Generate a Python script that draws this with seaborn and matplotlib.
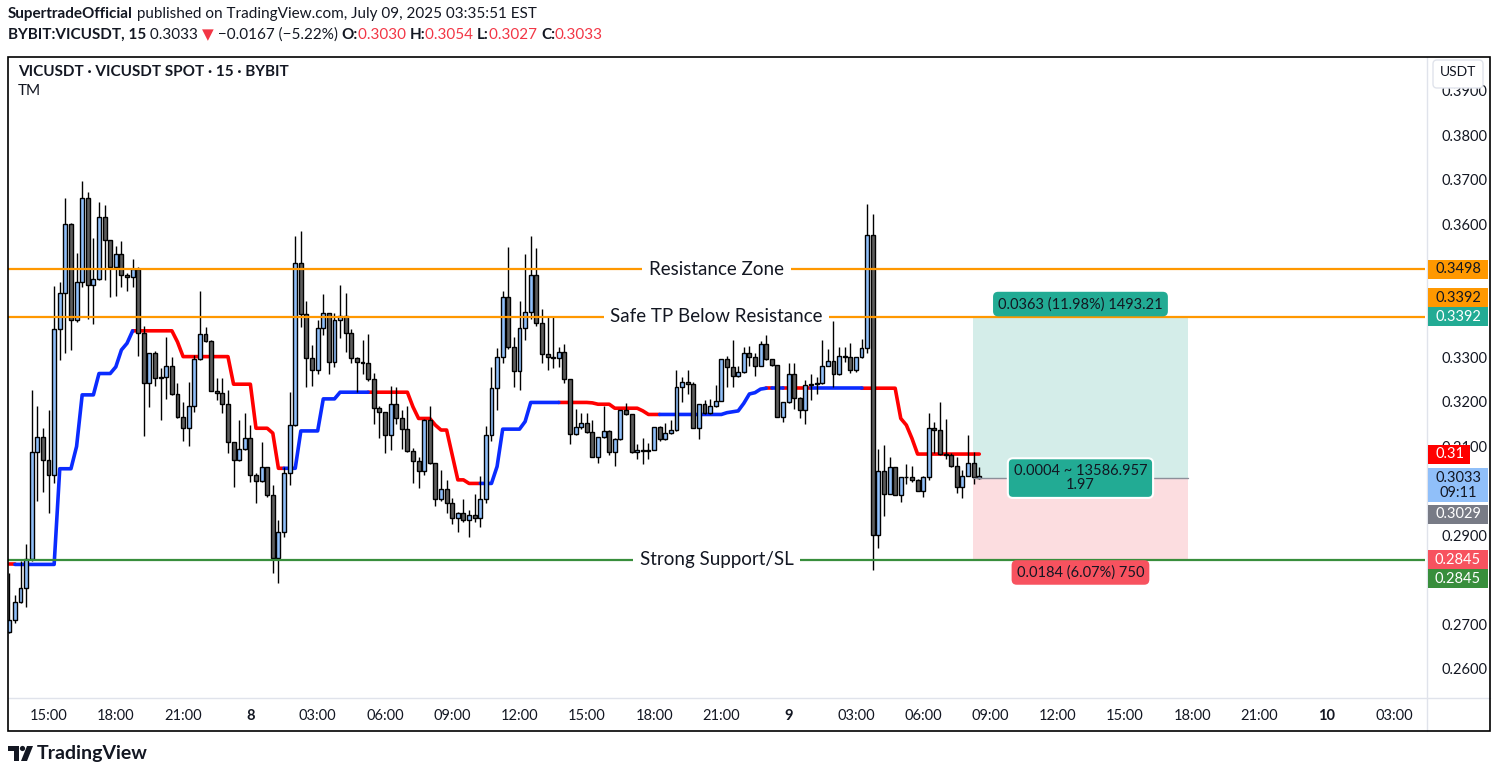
import numpy as np
import pandas as pd
import matplotlib
matplotlib.use('Agg')
import matplotlib.pyplot as plt
import matplotlib.transforms as mtransforms
from matplotlib.patches import Rectangle, FancyBboxPatch, Polygon, Circle
import seaborn as sns

# VICUSDT 15m candles, first bar 2025-07-07 13:15
opens = [0.2682, 0.2709, 0.2750, 0.2781, 0.2847, 0.3087, 0.3121, 0.3069, 0.3035, 0.3363,
         0.3444, 0.3599, 0.3384, 0.3470, 0.3658, 0.3464, 0.3476, 0.3615, 0.3563, 0.3503,
         0.3532, 0.3485, 0.3480, 0.3500, 0.3356, 0.3242, 0.3311, 0.3253, 0.3257, 0.3282,
         0.3219, 0.3167, 0.3141, 0.3190, 0.3296, 0.3352, 0.3338, 0.3224, 0.3221, 0.3195,
         0.3109, 0.3070, 0.3094, 0.3118, 0.3037, 0.3022, 0.3053, 0.2990, 0.2849, 0.2907,
         0.3040, 0.3148, 0.3512, 0.3397, 0.3298, 0.3271, 0.3366, 0.3399, 0.3289, 0.3384,
         0.3393, 0.3354, 0.3298, 0.3289, 0.3287, 0.3251, 0.3186, 0.3177, 0.3125, 0.3195,
         0.3163, 0.3139, 0.3090, 0.3067, 0.3045, 0.3160, 0.3062, 0.2982, 0.3004, 0.2972,
         0.2939, 0.2950, 0.2935, 0.2945, 0.2940, 0.2981, 0.3125, 0.3231, 0.3300, 0.3435,
         0.3323, 0.3270, 0.3366, 0.3403, 0.3485, 0.3377, 0.3307, 0.3302, 0.3298, 0.3312,
         0.3251, 0.3127, 0.3143, 0.3152, 0.3133, 0.3077, 0.3121, 0.3135, 0.3087, 0.3117,
         0.3181, 0.3172, 0.3087, 0.3093, 0.3090, 0.3093, 0.3143, 0.3116, 0.3130, 0.3136,
         0.3233, 0.3244, 0.3241, 0.3141, 0.3195, 0.3175, 0.3190, 0.3203, 0.3296, 0.3278,
         0.3258, 0.3267, 0.3309, 0.3302, 0.3281, 0.3330, 0.3296, 0.3283, 0.3167, 0.3199,
         0.3262, 0.3210, 0.3182, 0.3238, 0.3240, 0.3242, 0.3282, 0.3293, 0.3264, 0.3304,
         0.3300, 0.3272, 0.3300, 0.3321, 0.3575, 0.2901, 0.3046, 0.2993, 0.3053, 0.2991,
         0.3031, 0.3031, 0.3025, 0.3000, 0.3031, 0.3141, 0.3137, 0.3083, 0.3080, 0.3056,
         0.3008, 0.3034, 0.3062, 0.3030]
highs = [0.2815, 0.2766, 0.2843, 0.2882, 0.3226, 0.3191, 0.3142, 0.3182, 0.3461, 0.3470,
         0.3658, 0.3603, 0.3534, 0.3697, 0.3671, 0.3568, 0.3649, 0.3643, 0.3565, 0.3551,
         0.3562, 0.3490, 0.3521, 0.3504, 0.3371, 0.3311, 0.3315, 0.3277, 0.3345, 0.3301,
         0.3242, 0.3199, 0.3244, 0.3306, 0.3449, 0.3368, 0.3340, 0.3255, 0.3253, 0.3227,
         0.3110, 0.3160, 0.3176, 0.3148, 0.3040, 0.3109, 0.3055, 0.3013, 0.2935, 0.3055,
         0.3223, 0.3572, 0.3584, 0.3427, 0.3327, 0.3384, 0.3443, 0.3400, 0.3401, 0.3463,
         0.3446, 0.3365, 0.3302, 0.3339, 0.3353, 0.3265, 0.3191, 0.3178, 0.3236, 0.3233,
         0.3181, 0.3191, 0.3097, 0.3076, 0.3161, 0.3191, 0.3063, 0.3047, 0.3025, 0.2984,
         0.2952, 0.2981, 0.2957, 0.2993, 0.3034, 0.3145, 0.3278, 0.3321, 0.3449, 0.3549,
         0.3347, 0.3427, 0.3533, 0.3574, 0.3545, 0.3409, 0.3393, 0.3392, 0.3323, 0.3330,
         0.3252, 0.3184, 0.3176, 0.3176, 0.3160, 0.3122, 0.3190, 0.3136, 0.3118, 0.3182,
         0.3198, 0.3173, 0.3105, 0.3120, 0.3107, 0.3144, 0.3145, 0.3152, 0.3160, 0.3273,
         0.3257, 0.3273, 0.3244, 0.3196, 0.3205, 0.3206, 0.3238, 0.3297, 0.3303, 0.3339,
         0.3280, 0.3324, 0.3326, 0.3309, 0.3338, 0.3351, 0.3297, 0.3284, 0.3199, 0.3288,
         0.3288, 0.3211, 0.3249, 0.3264, 0.3257, 0.3339, 0.3318, 0.3382, 0.3323, 0.3324,
         0.3333, 0.3301, 0.3341, 0.3645, 0.3623, 0.3094, 0.3103, 0.3077, 0.3053, 0.3032,
         0.3061, 0.3056, 0.3026, 0.3034, 0.3175, 0.3156, 0.3200, 0.3161, 0.3085, 0.3077,
         0.3047, 0.3126, 0.3088, 0.3054]
lows = [0.2680, 0.2704, 0.2748, 0.2740, 0.2843, 0.2978, 0.2998, 0.2951, 0.3017, 0.3294,
        0.3311, 0.3317, 0.3380, 0.3458, 0.3387, 0.3375, 0.3475, 0.3474, 0.3437, 0.3439,
        0.3459, 0.3450, 0.3458, 0.3304, 0.3124, 0.3189, 0.3237, 0.3160, 0.3207, 0.3216,
        0.3165, 0.3113, 0.3100, 0.3178, 0.3294, 0.3335, 0.3224, 0.3204, 0.3176, 0.3085,
        0.3008, 0.3068, 0.3092, 0.3021, 0.2974, 0.3021, 0.2987, 0.2815, 0.2793, 0.2897,
        0.3013, 0.3145, 0.3369, 0.3233, 0.3237, 0.3263, 0.3351, 0.3263, 0.3278, 0.3343,
        0.3313, 0.3287, 0.3223, 0.3264, 0.3248, 0.3150, 0.3120, 0.3085, 0.3092, 0.3151,
        0.3094, 0.3087, 0.3019, 0.3006, 0.3037, 0.3060, 0.2967, 0.2978, 0.2950, 0.2926,
        0.2907, 0.2931, 0.2897, 0.2931, 0.2920, 0.2972, 0.3113, 0.3182, 0.3288, 0.3320,
        0.3234, 0.3226, 0.3339, 0.3386, 0.3370, 0.3288, 0.3272, 0.3276, 0.3279, 0.3243,
        0.3105, 0.3126, 0.3140, 0.3130, 0.3076, 0.3064, 0.3120, 0.3082, 0.3057, 0.3115,
        0.3170, 0.3086, 0.3072, 0.3060, 0.3073, 0.3091, 0.3113, 0.3115, 0.3129, 0.3134,
        0.3199, 0.3218, 0.3141, 0.3116, 0.3173, 0.3174, 0.3189, 0.3202, 0.3234, 0.3234,
        0.3256, 0.3266, 0.3280, 0.3258, 0.3280, 0.3295, 0.3280, 0.3166, 0.3156, 0.3198,
        0.3184, 0.3165, 0.3151, 0.3205, 0.3218, 0.3241, 0.3281, 0.3234, 0.3261, 0.3290,
        0.3266, 0.3268, 0.3299, 0.3309, 0.2822, 0.2871, 0.2944, 0.2993, 0.2990, 0.2976,
        0.3016, 0.3021, 0.2999, 0.2986, 0.3025, 0.3085, 0.3081, 0.3071, 0.3054, 0.2996,
        0.2984, 0.3033, 0.3016, 0.3027]
closes = [0.2709, 0.2750, 0.2781, 0.2847, 0.3087, 0.3121, 0.3069, 0.3035, 0.3363, 0.3444,
          0.3599, 0.3384, 0.3470, 0.3658, 0.3464, 0.3476, 0.3615, 0.3563, 0.3503, 0.3532,
          0.3485, 0.3480, 0.3500, 0.3356, 0.3242, 0.3311, 0.3253, 0.3257, 0.3282, 0.3219,
          0.3167, 0.3141, 0.3190, 0.3296, 0.3352, 0.3338, 0.3224, 0.3221, 0.3195, 0.3109,
          0.3070, 0.3094, 0.3118, 0.3037, 0.3022, 0.3053, 0.2990, 0.2849, 0.2907, 0.3040,
          0.3148, 0.3512, 0.3397, 0.3298, 0.3271, 0.3366, 0.3399, 0.3289, 0.3384, 0.3393,
          0.3354, 0.3298, 0.3289, 0.3288, 0.3251, 0.3186, 0.3177, 0.3125, 0.3195, 0.3163,
          0.3139, 0.3090, 0.3067, 0.3045, 0.3160, 0.3062, 0.2982, 0.3004, 0.2972, 0.2939,
          0.2950, 0.2935, 0.2945, 0.2940, 0.2981, 0.3125, 0.3231, 0.3300, 0.3435, 0.3323,
          0.3270, 0.3366, 0.3403, 0.3485, 0.3377, 0.3307, 0.3302, 0.3298, 0.3312, 0.3251,
          0.3127, 0.3143, 0.3152, 0.3133, 0.3077, 0.3121, 0.3135, 0.3087, 0.3117, 0.3181,
          0.3172, 0.3087, 0.3093, 0.3090, 0.3093, 0.3143, 0.3116, 0.3130, 0.3136, 0.3233,
          0.3244, 0.3241, 0.3141, 0.3195, 0.3175, 0.3190, 0.3203, 0.3296, 0.3278, 0.3258,
          0.3267, 0.3309, 0.3302, 0.3281, 0.3330, 0.3296, 0.3283, 0.3167, 0.3199, 0.3262,
          0.3210, 0.3182, 0.3238, 0.3240, 0.3242, 0.3282, 0.3293, 0.3264, 0.3304, 0.3300,
          0.3272, 0.3300, 0.3321, 0.3575, 0.2901, 0.3046, 0.2993, 0.3053, 0.2991, 0.3031,
          0.3031, 0.3025, 0.3000, 0.3031, 0.3141, 0.3137, 0.3083, 0.3080, 0.3056, 0.3008,
          0.3034, 0.3062, 0.3032, 0.3033]

# Trend Magic ("TM") line: levels with their run lengths, and colour runs
tm_levels = [0.2835, 0.3050, 0.3100, 0.3216, 0.3264, 0.3279, 0.3317, 0.3332, 0.3360, 0.3335,
             0.3302, 0.3240, 0.3141, 0.3130, 0.3051, 0.3135, 0.3207, 0.3222, 0.3189, 0.3163,
             0.3148, 0.3137, 0.3081, 0.3025, 0.3017, 0.3055, 0.3139, 0.3156, 0.3199, 0.3198,
             0.3195, 0.3186, 0.3180, 0.3172, 0.3176, 0.3178, 0.3180, 0.3197, 0.3218, 0.3221,
             0.3229, 0.3231, 0.3163, 0.3148, 0.3118, 0.3083]
tm_counts = [9, 3, 1, 3, 3, 1, 1, 1, 8, 1,
             9, 4, 3, 1, 4, 4, 3, 13, 1, 3,
             1, 2, 1, 2, 5, 1, 4, 1, 11, 1,
             3, 5, 1, 14, 1, 1, 1, 1, 1, 1,
             1, 24, 1, 1, 1, 12]
tm_trend = ['down', 'up', 'down', 'up', 'down', 'up', 'down', 'up', 'down', 'up', 'down', 'up', 'down']
tm_trend_counts = [2, 21, 27, 15, 20, 14, 18, 19, 1, 2, 5, 9, 21]

# drawings
resistance = 0.3498
take_profit = 0.3392
entry = 0.3029
stop_loss = 0.2845
tm_last_label = '0.31'
pos_start, pos_end = 171.9, 210.2
pos_top_text = '0.0363 (11.98%) 1493.21'
pos_mid_text = '0.0004 ~ 13586.957\n1.97'
pos_bot_text = '0.0184 (6.07%) 750'

start_time = pd.Timestamp('2025-07-07 13:15')
time_ticks = pd.date_range('2025-07-07 15:00', periods=21, freq='3h')
# ticks that are not hidden behind the coloured price tags
price_ticks = [0.26, 0.27, 0.29, 0.31, 0.32, 0.33, 0.36, 0.37, 0.38, 0.39]

W, H = 1498, 776
UP, DOWN = '#90bff9', '#5d5d5d'
ORANGE, GREEN, TEAL, PINK = '#ff9800', '#388e3c', '#22ab94', '#f7525f'
DARK = '#131722'

sns.set_theme(style='white')
plt.rcParams['font.family'] = ['Lato', 'DejaVu Sans']

fig = plt.figure(figsize=(W / 100, H / 100), dpi=100)
fig.patch.set_facecolor('white')
L, R, TOP, BOT = 8, 1425, 57, 698
ax = fig.add_axes([L / W, 1 - BOT / H, (R - L) / W, (BOT - TOP) / H])
ax.set_facecolor('white')

# pixel transform with origin at top-left of the image
T = mtransforms.Affine2D().scale(1, -1).translate(0, H)

df = pd.DataFrame({'open': opens, 'high': highs, 'low': lows, 'close': closes})
df['bar'] = np.arange(len(df))
df['up'] = df['close'] >= df['open']
body_lo = df[['open', 'close']].min(axis=1)
body_h = (df['close'] - df['open']).abs().clip(lower=0.00008)

# Trend Magic line
tm = np.repeat(tm_levels, tm_counts)
rows = []
s = 0
for seg, (tr, n) in enumerate(zip(tm_trend, tm_trend_counts)):
    for b in range(max(s - 1, 0), s + n):
        rows.append((seg, b, tm[b], tr))
    s += n
tm_df = pd.DataFrame(rows, columns=['seg', 'bar', 'tm', 'trend'])
sns.lineplot(data=tm_df, x='bar', y='tm', hue='trend', units='seg', estimator=None,
             palette={'up': '#0a2bff', 'down': '#ff0000'}, linewidth=2.6, sort=False,
             legend=False, ax=ax, zorder=2)

# candles
ax.vlines(df['bar'], df['low'], df['high'], color='black', linewidth=1, zorder=3)
ax.bar(df['bar'], body_h, bottom=body_lo, width=0.7,
       color=np.where(df['up'], UP, DOWN), edgecolor='black', linewidth=1, zorder=4)

# position tool
ax.add_patch(Rectangle((pos_start, entry), pos_end - pos_start, take_profit - entry,
                       facecolor='#d4ede9', edgecolor='none', zorder=1))
ax.add_patch(Rectangle((pos_start, stop_loss), pos_end - pos_start, entry - stop_loss,
                       facecolor='#fcdde0', edgecolor='none', zorder=1))
ax.plot([pos_start, pos_end], [entry, entry], color='#8c8f99', linewidth=1, zorder=5)
mid = (pos_start + pos_end) / 2
box = dict(boxstyle='round,pad=0.35,rounding_size=0.35', edgecolor='none')
ax.annotate(pos_top_text, (mid, take_profit), xytext=(0, 9), textcoords='offset points',
            ha='center', va='center', fontsize=10.5, color=DARK, zorder=8,
            bbox=dict(box, facecolor=TEAL))
ax.annotate(pos_mid_text, (mid, entry), ha='center', va='center', fontsize=10.5, color=DARK,
            linespacing=1.0, zorder=8,
            bbox=dict(boxstyle='round,pad=0.4,rounding_size=0.35', facecolor=TEAL,
                      edgecolor='white', linewidth=1.5))
ax.annotate(pos_bot_text, (mid, stop_loss), xytext=(0, -9), textcoords='offset points',
            ha='center', va='center', fontsize=10.5, color=DARK, zorder=8,
            bbox=dict(box, facecolor=PINK))

# horizontal levels with centred labels
blend = mtransforms.blended_transform_factory(ax.transAxes, ax.transData)
for lvl, txt, col in [(resistance, 'Resistance Zone', ORANGE),
                      (take_profit, 'Safe TP Below Resistance', ORANGE),
                      (stop_loss, 'Strong Support/SL', GREEN)]:
    ax.axhline(lvl, color=col, linewidth=1.6, zorder=6)
    ax.text(0.5, lvl, txt, transform=blend, ha='center', va='center', fontsize=13.5,
            color=DARK, zorder=7,
            bbox=dict(boxstyle='square,pad=0.35', facecolor='white', edgecolor='none'))

ax.set_xlim(-0.23, 252.5)
ax.set_ylim(0.25348, 0.39753)
for sp in ax.spines.values():
    sp.set_visible(False)

# time axis
tick_bars = (time_ticks - start_time) / pd.Timedelta(minutes=15)
tick_labels = [str(t.day) if t.hour == 0 else t.strftime('%H:%M') for t in time_ticks]
ax.set_xticks(tick_bars)
ax.set_xticklabels(tick_labels)
ax.tick_params(axis='x', length=0, pad=8, labelsize=10.5, labelcolor=DARK)
for lab, t in zip(ax.get_xticklabels(), time_ticks):
    if t.hour == 0:
        lab.set_fontweight('bold')
ax.set_xlabel('')
ax.set_ylabel('')

# price axis
ax.yaxis.tick_right()
ax.set_yticks(price_ticks)
ax.set_yticklabels([f'{p:.4f}' for p in price_ticks])
ax.tick_params(axis='y', length=0, pad=12, labelsize=10.5, labelcolor=DARK)

fig.canvas.draw()
renderer = fig.canvas.get_renderer()


def py(price):
    return H - ax.transData.transform((0, price))[1]


# coloured tags on the price scale: text, price, background, text colour, pixel shift, width
tags = [
    (f'{resistance:.4f}', resistance, ORANGE, DARK, 0, 60),
    (f'{take_profit:.4f}', take_profit, ORANGE, DARK, -19, 60),
    (f'{take_profit:.4f}', take_profit, TEAL, 'white', 0, 60),
    (tm_last_label, tm[-1], '#ff0000', 'white', 0, 42),
    (f'{entry:.4f}', entry, '#787b86', 'white', 36, 60),
    (f'{stop_loss:.4f}', stop_loss, PINK, 'white', 0, 60),
    (f'{stop_loss:.4f}', stop_loss, GREEN, 'white', 19, 60),
]
for txt, p, bg, fg, dy, w in tags:
    yc = py(p) + dy
    fig.add_artist(Rectangle((1428, yc - 9.5), w, 19, transform=T, facecolor=bg,
                             edgecolor='none', zorder=5))
    fig.text(1428 + (8 if w < 60 else w / 2), yc, txt, transform=T, ha='left' if w < 60 else 'center',
             va='center', fontsize=10.5, color=fg, zorder=6)

# last price tag with countdown
yc = py(closes[-1])
fig.add_artist(Rectangle((1428, yc - 8), 60, 34, transform=T, facecolor=UP,
                         edgecolor='none', zorder=5))
fig.text(1458, yc + 9, f'{closes[-1]:.4f}\n09:11', transform=T, ha='center', va='center',
         fontsize=10.5, color=DARK, linespacing=1.05, zorder=6)

# USDT button
fig.add_artist(FancyBboxPatch((1433, 60), 50, 28, boxstyle='round,pad=0,rounding_size=4',
                              transform=T, facecolor='white', edgecolor='#e0e3eb', zorder=5))
fig.text(1458, 72, 'USDT', transform=T, ha='center', va='center', fontsize=10, color=DARK, zorder=6)

# frame and separators
fig.add_artist(Rectangle((L, TOP), 1490 - L, 731 - TOP, transform=T, fill=False,
                         edgecolor='black', linewidth=1.2, zorder=7))
fig.add_artist(plt.Line2D([L, 1490], [BOT, BOT], transform=T, color='#e0e3eb', linewidth=1, zorder=4))
fig.add_artist(plt.Line2D([R + 2, R + 2], [TOP, 731], transform=T, color='#e0e3eb', linewidth=1, zorder=4))


def text_runs(x, y, runs, size):
    for txt, weight, color in runs:
        t = fig.text(x, y, txt, transform=T, fontsize=size, fontweight=weight, color=color,
                     ha='left', va='center')
        x += t.get_window_extent(renderer).width


RED = '#f23645'
text_runs(8, 14, [('SupertradeOfficial', 'bold', DARK),
                  (' published on TradingView.com, July 09, 2025 03:35:51 EST', 'normal', DARK)], 11)
text_runs(8, 35, [('BYBIT:VICUSDT, 15', 'bold', DARK), (f' {closes[-1]:.4f} ', 'normal', DARK),
                  ('▼', 'normal', RED), (' −0.0167 (−5.22%) ', 'normal', DARK),
                  ('O:', 'bold', DARK), (f'{opens[-1]:.4f} ', 'normal', RED),
                  ('H:', 'bold', DARK), (f'{highs[-1]:.4f} ', 'normal', RED),
                  ('L:', 'bold', DARK), (f'{lows[-1]:.4f} ', 'normal', RED),
                  ('C:', 'bold', DARK), (f'{closes[-1]:.4f}', 'normal', RED)], 11)
fig.text(18, 72, 'VICUSDT · VICUSDT SPOT · 15 · BYBIT', transform=T, fontsize=11,
         fontweight='bold', color=DARK, va='center')
fig.text(18, 91, 'TM', transform=T, fontsize=11, color=DARK, va='center')

# TradingView logo
fig.add_artist(Polygon([(8, 746), (19, 746), (19, 761), (14, 761), (14, 751), (8, 751)],
                       closed=True, transform=T, facecolor=DARK, edgecolor='none'))
fig.add_artist(Circle((22.5, 748.5), 2.6, transform=T, facecolor=DARK, edgecolor='none'))
fig.add_artist(Polygon([(27, 746), (33, 746), (27, 761), (21, 761)], closed=True,
                       transform=T, facecolor=DARK, edgecolor='none'))
fig.text(37, 753.5, 'TradingView', transform=T, fontsize=14, fontweight='bold', color=DARK,
         va='center')

fig.savefig('out.png', dpi=100)
